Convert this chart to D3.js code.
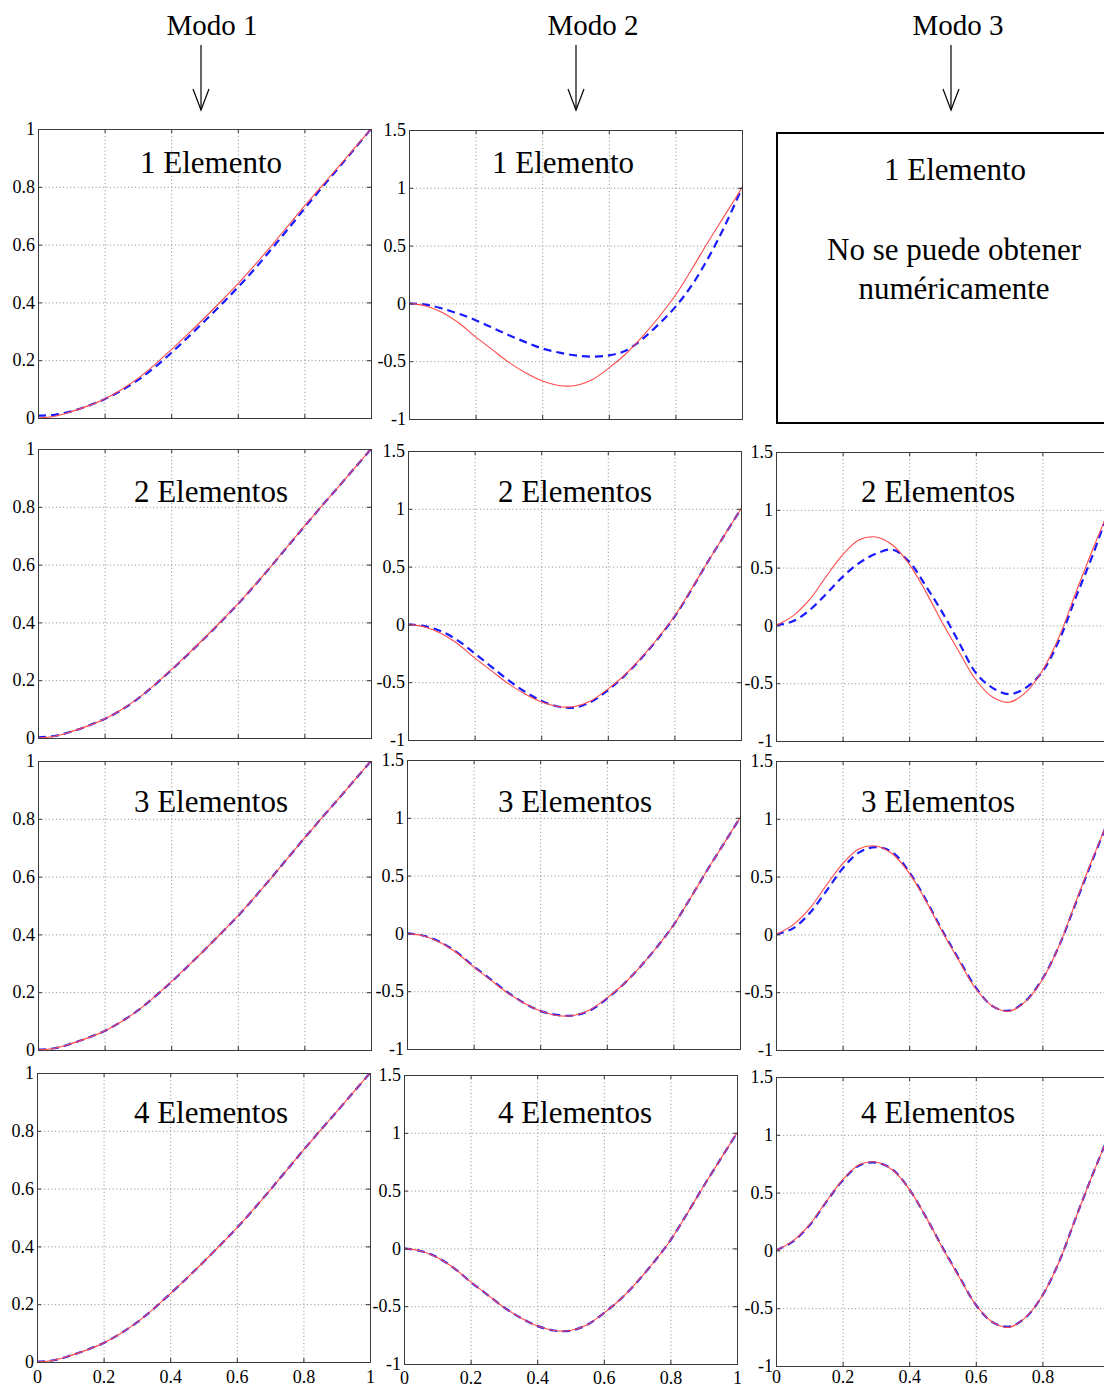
<!DOCTYPE html>
<html>
<head>
<meta charset="utf-8">
<script src="https://cdn.jsdelivr.net/npm/d3@7"></script>
<style>
  html, body { margin: 0; padding: 0; background: #fff; overflow: hidden; }
  svg { display: block; font-family: "Liberation Serif", "Times New Roman", serif; }
</style>
</head>
<body>
<svg id="fig" width="1104" height="1387"></svg>
<script>
// Sampling positions along the element (normalised coordinate)
const xs = [0, 0.05, 0.1, 0.15, 0.2, 0.25, 0.3, 0.35, 0.4, 0.45, 0.5,
            0.55, 0.6, 0.65, 0.7, 0.75, 0.8, 0.85, 0.9, 0.95, 1];

// Mode 1: exact shape (red) and finite-element approximations (blue)
const mode1Exact = [0, 0.006, 0.022, 0.042, 0.066, 0.098, 0.137, 0.184, 0.236, 0.29, 0.346,
                    0.404, 0.464, 0.528, 0.595, 0.664, 0.733, 0.8, 0.866, 0.933, 1.0];
const mode1Elem1 = [0.008, 0.011, 0.023, 0.042, 0.065, 0.095, 0.131, 0.175, 0.225, 0.279, 0.335,
                    0.392, 0.452, 0.515, 0.583, 0.653, 0.724, 0.794, 0.862, 0.931, 1.0];
const mode1Elem2 = [0.002, 0.007, 0.022, 0.042, 0.066, 0.097, 0.136, 0.183, 0.235, 0.289, 0.345,
                    0.403, 0.463, 0.527, 0.594, 0.663, 0.732, 0.8, 0.866, 0.933, 1.0];
const mode1Elem3 = [0.001, 0.006, 0.022, 0.042, 0.066, 0.098, 0.137, 0.184, 0.235, 0.29, 0.346,
                    0.404, 0.463, 0.528, 0.595, 0.664, 0.733, 0.8, 0.866, 0.933, 1.0];
const mode1Elem4 = [0.001, 0.006, 0.022, 0.042, 0.066, 0.098, 0.137, 0.184, 0.236, 0.29, 0.346,
                    0.404, 0.464, 0.528, 0.595, 0.664, 0.733, 0.8, 0.866, 0.933, 1.0];

// Mode 2
const mode2Exact = [0, -0.022, -0.078, -0.17, -0.29, -0.4, -0.51, -0.6, -0.67, -0.71, -0.71,
                    -0.66, -0.56, -0.44, -0.29, -0.12, 0.07, 0.3, 0.54, 0.77, 1.0];
const mode2Elem1 = [0, -0.01, -0.045, -0.09, -0.145, -0.21, -0.275, -0.335, -0.39, -0.425, -0.45,
                    -0.46, -0.45, -0.41, -0.31, -0.18, -0.03, 0.16, 0.4, 0.68, 1.0];
const mode2Elem2 = [0, -0.015, -0.06, -0.14, -0.25, -0.365, -0.48, -0.58, -0.66, -0.71, -0.72,
                    -0.67, -0.57, -0.445, -0.295, -0.125, 0.065, 0.295, 0.54, 0.77, 1.0];
const mode2Elem3 = [0, -0.02, -0.075, -0.165, -0.285, -0.395, -0.505, -0.6, -0.67, -0.705, -0.71,
                    -0.665, -0.565, -0.44, -0.29, -0.12, 0.07, 0.3, 0.54, 0.77, 1.0];
const mode2Elem4 = [0, -0.022, -0.078, -0.17, -0.29, -0.4, -0.51, -0.6, -0.67, -0.71, -0.712,
                    -0.66, -0.56, -0.44, -0.29, -0.12, 0.07, 0.3, 0.54, 0.77, 1.0];

// Mode 3 (no one-element solution)
const mode3Exact = [0, 0.08, 0.22, 0.42, 0.61, 0.74, 0.765, 0.695, 0.53, 0.29, 0.02,
                    -0.23, -0.47, -0.62, -0.665, -0.58, -0.39, -0.1, 0.28, 0.65, 1.0];
const mode3Elem2 = [0, 0.035, 0.13, 0.27, 0.42, 0.54, 0.62, 0.655, 0.55, 0.34, 0.11,
                    -0.15, -0.41, -0.54, -0.595, -0.54, -0.4, -0.13, 0.24, 0.6, 1.0];
const mode3Elem3 = [0, 0.05, 0.18, 0.37, 0.57, 0.71, 0.755, 0.71, 0.54, 0.3, 0.03,
                    -0.22, -0.46, -0.62, -0.66, -0.575, -0.385, -0.1, 0.27, 0.64, 1.0];
const mode3Elem4 = [0, 0.075, 0.215, 0.415, 0.605, 0.735, 0.76, 0.7, 0.53, 0.29, 0.025,
                    -0.225, -0.47, -0.62, -0.66, -0.58, -0.39, -0.1, 0.28, 0.65, 1.0];

// Tick labels
const xTicks = [0, 0.2, 0.4, 0.6, 0.8, 1];
const mode1Ticks = [0, 0.2, 0.4, 0.6, 0.8, 1];
const higherModeTicks = [-1, -0.5, 0, 0.5, 1, 1.5];

// Headings
const modeLabels = ["Modo 1", "Modo 2", "Modo 3"];
const rowLabels = ["1 Elemento", "2 Elementos", "3 Elementos", "4 Elementos"];
const noSolutionLines = ["No se puede obtener", "numéricamente"];

// ---------- layout ----------
const PAGE_W = 1104, PAGE_H = 1387;
const W = 333, H = 289;
const headX = [212, 593, 958];
const arrowX = [201, 576, 951];
const titleY = [173, 502, 812, 1123];
const titleX = [211, 575, 938];
const bottomPad = [8, 7, 4];

const panels = [
  { row: 0, col: 0, left: 38,  top: 129, domain: [0, 1],    ticks: mode1Ticks,      exact: mode1Exact, approx: mode1Elem1 },
  { row: 0, col: 1, left: 409, top: 130, domain: [-1, 1.5], ticks: higherModeTicks, exact: mode2Exact, approx: mode2Elem1, tx: 563 },
  { row: 1, col: 0, left: 38,  top: 449, domain: [0, 1],    ticks: mode1Ticks,      exact: mode1Exact, approx: mode1Elem2 },
  { row: 1, col: 1, left: 408, top: 451, domain: [-1, 1.5], ticks: higherModeTicks, exact: mode2Exact, approx: mode2Elem2 },
  { row: 1, col: 2, left: 776, top: 452, domain: [-1, 1.5], ticks: higherModeTicks, exact: mode3Exact, approx: mode3Elem2 },
  { row: 2, col: 0, left: 38,  top: 761, domain: [0, 1],    ticks: mode1Ticks,      exact: mode1Exact, approx: mode1Elem3 },
  { row: 2, col: 1, left: 407, top: 760, domain: [-1, 1.5], ticks: higherModeTicks, exact: mode2Exact, approx: mode2Elem3 },
  { row: 2, col: 2, left: 776, top: 761, domain: [-1, 1.5], ticks: higherModeTicks, exact: mode3Exact, approx: mode3Elem3 },
  { row: 3, col: 0, left: 37,  top: 1073, domain: [0, 1],    ticks: mode1Ticks,      exact: mode1Exact, approx: mode1Elem4 },
  { row: 3, col: 1, left: 404, top: 1075, domain: [-1, 1.5], ticks: higherModeTicks, exact: mode2Exact, approx: mode2Elem4 },
  { row: 3, col: 2, left: 776, top: 1077, domain: [-1, 1.5], ticks: higherModeTicks, exact: mode3Exact, approx: mode3Elem4 }
];

const svg = d3.select("#fig");
svg.append("rect").attr("width", PAGE_W).attr("height", PAGE_H).attr("fill", "#fff");

// Column headings with downward arrows
modeLabels.forEach((label, c) => {
  svg.append("text").attr("x", headX[c]).attr("y", 35)
    .attr("text-anchor", "middle").attr("font-size", 29).attr("fill", "#000").text(label);
  const a = svg.append("g").attr("stroke", "#000").attr("stroke-width", 1.2).attr("fill", "none");
  a.append("line").attr("x1", arrowX[c]).attr("x2", arrowX[c]).attr("y1", 45).attr("y2", 110);
  a.append("path").attr("d", `M${arrowX[c] - 8},89 L${arrowX[c]},110 L${arrowX[c] + 8},89`);
});

function styleAxis(sel, fontSize) {
  sel.attr("font-family", null).attr("font-size", fontSize);
  sel.select(".domain").remove();
  sel.selectAll(".tick line").attr("stroke", "#333");
  sel.selectAll(".tick text").attr("fill", "#000");
}

panels.forEach((p, i) => {
  const g = svg.append("g").attr("transform", `translate(${p.left},${p.top})`);
  const x = d3.scaleLinear().domain([0, 1]).range([0, W]);
  const y = d3.scaleLinear().domain(p.domain).range([H, 0]);
  const yInner = p.ticks.filter(t => t > p.domain[0] && t < p.domain[1]);
  const xInner = xTicks.filter(t => t > 0 && t < 1);

  // dotted grid
  const gx = g.append("g").attr("transform", `translate(0,${H})`)
    .call(d3.axisBottom(x).tickValues(xInner).tickSize(-H).tickFormat(""));
  gx.select(".domain").remove();
  gx.selectAll(".tick line").attr("stroke", "#8a8a8a").attr("stroke-dasharray", "1,2.6");
  const gy = g.append("g")
    .call(d3.axisLeft(y).tickValues(yInner).tickSize(-W).tickFormat(""));
  gy.select(".domain").remove();
  gy.selectAll(".tick line").attr("stroke", "#8a8a8a").attr("stroke-dasharray", "1,2.6");

  // curves
  g.append("clipPath").attr("id", `clip${i}`)
    .append("rect").attr("width", W).attr("height", H);
  const line = d3.line()
    .x((d, k) => x(xs[k]))
    .y(d => y(d))
    .curve(d3.curveCatmullRom.alpha(0.5));
  const plot = g.append("g").attr("clip-path", `url(#clip${i})`);
  plot.append("path").datum(p.approx).attr("d", line)
    .attr("fill", "none").attr("stroke", "#1a1aff").attr("stroke-width", 2.2)
    .attr("stroke-dasharray", "8,5");
  plot.append("path").datum(p.exact).attr("d", line)
    .attr("fill", "none").attr("stroke", "#ff4a4a").attr("stroke-width", 1.1);

  // inward ticks on all sides, labels on left (and bottom for last row)
  const left = g.append("g")
    .call(d3.axisLeft(y).tickValues(p.ticks).tickSize(-4).tickPadding(3).tickFormat(d => String(d)));
  styleAxis(left, 18);
  const right = g.append("g").attr("transform", `translate(${W},0)`)
    .call(d3.axisRight(y).tickValues(p.ticks).tickSize(-4).tickFormat(""));
  styleAxis(right, 18);
  const top = g.append("g")
    .call(d3.axisTop(x).tickValues(xTicks).tickSize(-4).tickFormat(""));
  styleAxis(top, 18);
  const bottom = g.append("g").attr("transform", `translate(0,${H})`)
    .call(d3.axisBottom(x).tickValues(xTicks).tickSize(-4).tickPadding(bottomPad[p.col])
      .tickFormat(p.row === 3 ? (d => String(d)) : ""));
  styleAxis(bottom, 18);
  // labels whose tick falls past the page edge are not drawn
  bottom.selectAll(".tick text").filter(d => p.left + x(d) > PAGE_W - 4).remove();

  // frame
  g.append("rect").attr("x", 0.5).attr("y", 0.5).attr("width", W).attr("height", H)
    .attr("fill", "none").attr("stroke", "#3a3a3a").attr("stroke-width", 1);

  // panel title
  svg.append("text")
    .attr("x", p.tx !== undefined ? p.tx : titleX[p.col]).attr("y", titleY[p.row])
    .attr("text-anchor", "middle").attr("font-size", 31).attr("fill", "#000")
    .text(rowLabels[p.row]);
});

// Mode 3 with a single element: message box
svg.append("rect").attr("x", 777).attr("y", 133).attr("width", 340).attr("height", 290)
  .attr("fill", "none").attr("stroke", "#000").attr("stroke-width", 2);
svg.append("text").attr("x", 955).attr("y", 180).attr("text-anchor", "middle")
  .attr("font-size", 31).text(rowLabels[0]);
noSolutionLines.forEach((t, k) => {
  svg.append("text").attr("x", 954).attr("y", 260 + k * 39).attr("text-anchor", "middle")
    .attr("font-size", 31).text(t);
});
</script>
</body>
</html>
